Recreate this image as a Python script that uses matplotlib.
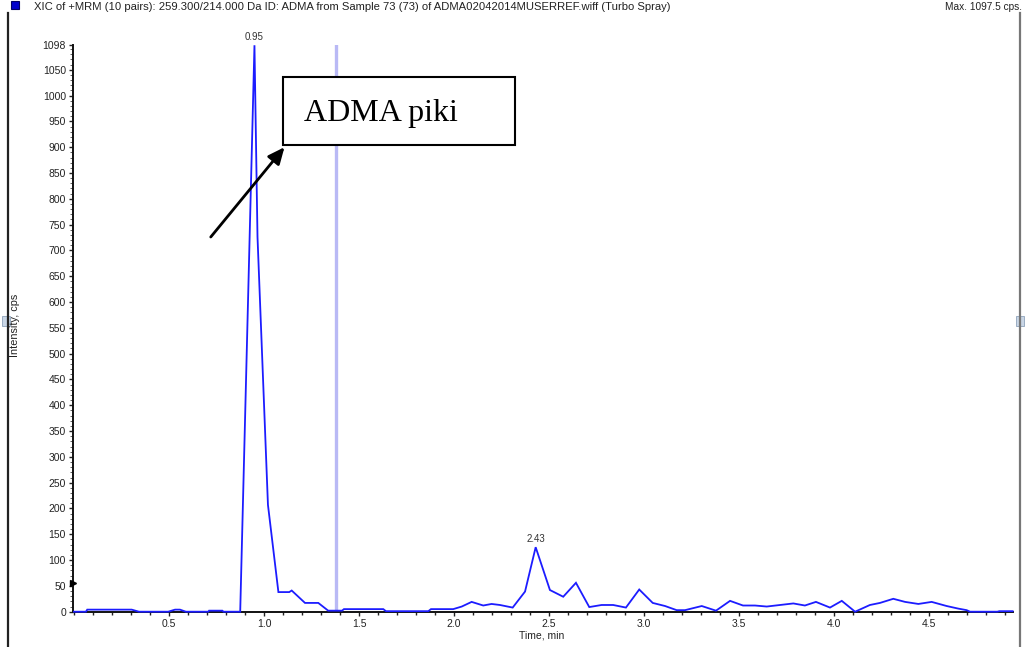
import matplotlib
matplotlib.use("Agg")
import matplotlib.pyplot as plt
from matplotlib.ticker import MultipleLocator, FixedLocator
from matplotlib.patches import Rectangle
from matplotlib.lines import Line2D

# ---- chromatogram data (time in min, intensity in cps) ----
time_min = [
    0.000, 0.063, 0.070, 0.304, 0.342, 0.496, 0.532, 0.558, 0.589, 0.707,
    0.711, 0.781, 0.787, 0.875, 0.950, 0.966, 1.021, 1.076, 1.133, 1.146,
    1.216, 1.286, 1.338, 1.411, 1.421, 1.628, 1.642, 1.865, 1.879, 1.996,
    2.041, 2.093, 2.154, 2.198, 2.242, 2.309, 2.374, 2.430, 2.505, 2.575,
    2.642, 2.712, 2.777, 2.838, 2.905, 2.975, 3.046, 3.111, 3.172, 3.216,
    3.304, 3.379, 3.453, 3.521, 3.584, 3.646, 3.716, 3.786, 3.847, 3.905,
    3.979, 4.041, 4.111, 4.189, 4.242, 4.312, 4.374, 4.444, 4.514, 4.593,
    4.654, 4.698, 4.716, 4.860, 4.870, 4.940,
]
intensity_cps = [
    0, 0, 4, 4, 0, 0, 4, 4, 0, 0,
    2, 2, 0, 0, 1097.5, 726, 207, 38, 38, 41,
    17, 17, 2, 2, 5, 5, 1, 1, 5, 5,
    10, 19, 12, 15, 13, 8, 39, 125, 42, 29,
    56, 9, 13, 13, 8, 43, 17, 11, 3, 3,
    11, 2, 21, 12, 12, 10, 13, 16, 12, 19,
    8, 21, 0, 13, 17, 25, 19, 15, 19, 11,
    6, 3, 0, 0, 1, 1,
]

peak_times = [0.95, 2.43]
peak_heights = [1097.5, 125]
peak_labels = ["0.95", "2.43"]

y_major = list(range(0, 1051, 50)) + [1098]
x_major = [0.5, 1.0, 1.5, 2.0, 2.5, 3.0, 3.5, 4.0, 4.5]
cursor_time = 1.38
side_marker_level = 55

title_text = ("XIC of +MRM (10 pairs): 259.300/214.000 Da ID: ADMA from Sample 73 (73) "
              "of ADMA02042014MUSERREF.wiff (Turbo Spray)")
max_text = "Max. 1097.5 cps."
callout_text = "ADMA piki"

W, H = 1028, 647
plt.rcParams["font.family"] = ["Liberation Sans", "DejaVu Sans"]

fig = plt.figure(figsize=(W / 100, H / 100), dpi=100)
fig.patch.set_facecolor("white")


def fx(x):
    return x / W


def fy(y):
    return 1 - y / H


ax_left, ax_right, ax_top, ax_bottom = 73, 1012.6, 45, 611.7
ax = fig.add_axes([fx(ax_left), fy(ax_bottom), (ax_right - ax_left) / W, (ax_bottom - ax_top) / H])
ax.set_xlim(-0.005, 4.94)
ax.set_ylim(0, 1098)

# cursor line
ax.axvline(cursor_time, color="#b9b9f5", lw=2.4, zorder=1)

# trace
ax.plot(time_min, intensity_cps, color="#1c1cff", lw=1.3, zorder=3, clip_on=False,
        solid_joinstyle="miter")

# apex labels
for t, h, lab in zip(peak_times, peak_heights, peak_labels):
    ax.annotate(lab, (t, h), xytext=(0, 2), textcoords="offset points",
                ha="center", va="bottom", fontsize=7, color="#333333")

# small level marker on the y axis
ax.plot([0], [side_marker_level], marker=">", color="black", ms=5,
        transform=ax.get_yaxis_transform(), clip_on=False, zorder=5)

# axes styling
for s in ("top", "right"):
    ax.spines[s].set_visible(False)
for s in ("left", "bottom"):
    ax.spines[s].set_linewidth(1.4)
    ax.spines[s].set_color("#111111")

ax.yaxis.set_major_locator(FixedLocator(y_major))
ax.yaxis.set_minor_locator(MultipleLocator(10))
ax.xaxis.set_major_locator(FixedLocator(x_major))
ax.xaxis.set_minor_locator(MultipleLocator(0.1))
ax.set_xticklabels([f"{v:.1f}" for v in x_major])
ax.set_yticklabels([str(v) for v in y_major])
ax.tick_params(axis="both", which="major", direction="out", length=3, width=1,
               labelsize=7.5, pad=2, color="#222222", labelcolor="#222222")
ax.tick_params(axis="y", which="minor", direction="out", length=2, width=0.6,
               color="#444444")
ax.tick_params(axis="x", which="minor", direction="out", length=2.5, width=1,
               color="#222222")

fig.text(fx(542), fy(635), "Time, min", ha="center", va="center", fontsize=7.5, color="#222222")
fig.text(fx(15), fy(325), "Intensity, cps", ha="center", va="center", rotation=90,
         fontsize=7.8, color="#222222")

# callout box and arrow
ax.annotate("", xy=(1.108, 900), xytext=(0.72, 726),
            arrowprops=dict(arrowstyle="-|>,head_length=1.0,head_width=0.45",
                            color="black", lw=2.0, shrinkA=0, shrinkB=0), zorder=6)
box = Rectangle((fx(283), fy(145)), fx(515) - fx(283), fy(77) - fy(145),
                transform=fig.transFigure, facecolor="white", edgecolor="black",
                lw=1.5, zorder=7)
fig.patches.append(box)
fig.text(fx(304), fy(121), callout_text, ha="left", va="baseline", fontsize=23,
         family=["Liberation Serif", "DejaVu Serif"], zorder=8)

# header
fig.patches.append(Rectangle((fx(11), fy(9)), fx(8), fy(0) - fy(8), transform=fig.transFigure,
                             facecolor="#0000cc", edgecolor="#000066", lw=0.8))
fig.text(fx(34), fy(7), title_text, ha="left", va="center", fontsize=8.1, color="#222222")
fig.text(fx(1022), fy(7), max_text, ha="right", va="center", fontsize=7.3, color="#222222")

# panel frame
for xline, col in ((8, "#222222"), (1020, "#777777")):
    fig.lines.append(Line2D([fx(xline), fx(xline)], [fy(13), fy(647)], transform=fig.transFigure,
                            color=col, lw=1.6))
for xh in (6, 1020):
    fig.patches.append(Rectangle((fx(xh - 4), fy(326)), fx(8), fy(316) - fy(326),
                                 transform=fig.transFigure, facecolor="#c9d6e6",
                                 edgecolor="#8fa3bb", lw=0.6))

fig.savefig("out.png", dpi=100)
